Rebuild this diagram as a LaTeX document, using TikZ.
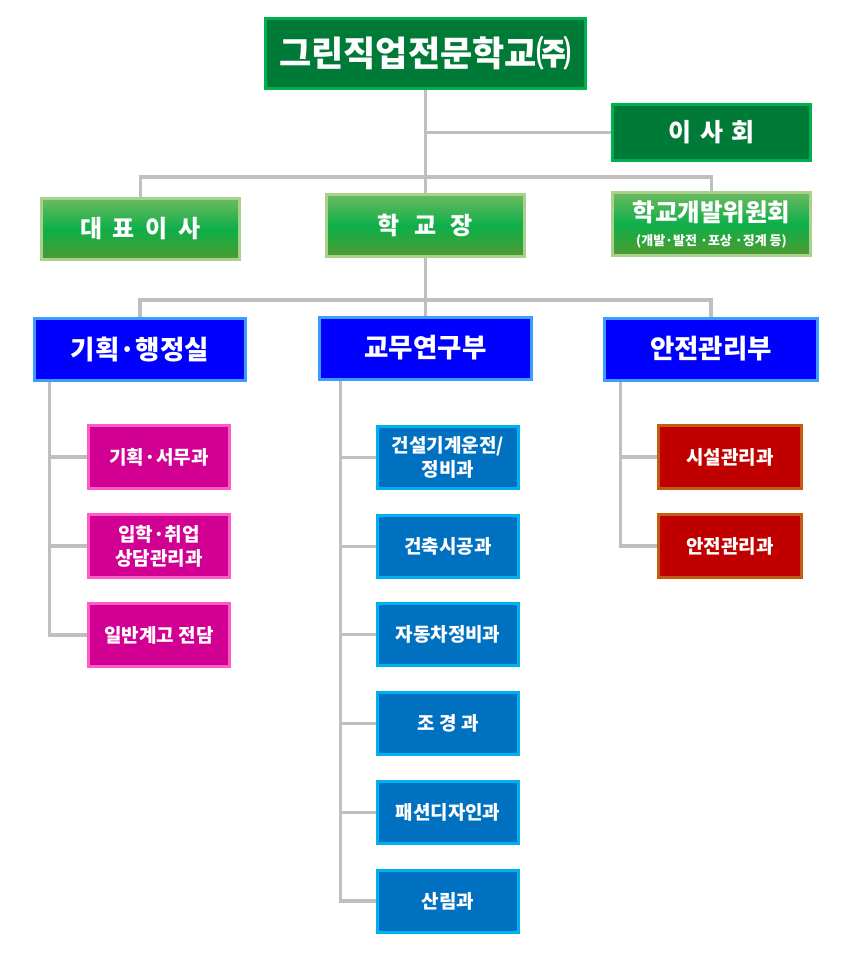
\documentclass[tikz,border=0pt]{standalone}
\usepackage{fontspec}
\setmainfont{Noto Sans CJK KR}
\usetikzlibrary{calc, shadows, backgrounds}

\definecolor{dkgreen}{HTML}{007A37}
\definecolor{ltgreen}{HTML}{00B050}
\definecolor{gtop}{HTML}{6DBA5F}
\definecolor{gmid}{HTML}{0DAF4A}
\definecolor{gbot}{HTML}{4E9A2F}
\definecolor{gedge}{HTML}{A9D18E}
\definecolor{deptblue}{HTML}{0000FF}
\definecolor{deptedge}{HTML}{3D9DFF}
\definecolor{pinkfill}{HTML}{D10093}
\definecolor{pinkedge}{HTML}{FF5CC8}
\definecolor{coursefill}{HTML}{0070C0}
\definecolor{courseedge}{HTML}{00B0F0}
\definecolor{redfill}{HTML}{C00000}
\definecolor{rededge}{HTML}{C55A11}
\definecolor{linegray}{HTML}{BFBFBF}

\begin{document}
\begin{tikzpicture}[x=1pt, y=-1pt,
  every node/.style={align=center, text=white},
  box/.style={rectangle, draw, line width=3pt, inner sep=0pt,
    drop shadow={shadow xshift=1.5pt, shadow yshift=-1.5pt, opacity=0.35, fill=black}},
  topbox/.style={box, fill=dkgreen, draw=ltgreen},
  headbox/.style={box, top color=gtop, bottom color=gbot, middle color=gmid,
    draw=gedge, minimum width=198pt, font=\bfseries\fontsize{24}{28}\selectfont},
  deptbox/.style={box, fill=deptblue, draw=deptedge, minimum height=62pt,
    font=\bfseries\fontsize{26.5}{30}\selectfont},
  subbox/.style={box, minimum width=141pt, minimum height=63pt,
    font=\bfseries\fontsize{19}{24}\selectfont},
  pinkbox/.style={subbox, fill=pinkfill, draw=pinkedge},
  coursebox/.style={subbox, fill=coursefill, draw=courseedge, minimum height=62pt},
  redbox/.style={subbox, fill=redfill, draw=rededge, minimum width=143pt},
  link/.style={draw=linegray, line width=3.5pt}
]
\useasboundingbox (0,0) rectangle (851,960);

% Top level
\node (school) [topbox, minimum width=320pt, minimum height=70pt,
  font=\bfseries\fontsize{35}{40}\selectfont] at (425.5,53.5) {그린직업전문학교㈜};
\node (board) [topbox, minimum width=198pt, minimum height=56pt,
  font=\bfseries\fontsize{25}{29}\selectfont] at (711.5,132.5)
  {이\hspace{0.33em}사\hspace{0.33em}회};

% Second level
\node (ceo) [headbox, minimum height=61pt] at (140.5,229)
  {대\hspace{0.45em}표\hspace{0.45em}이\hspace{0.45em}사};
\node (principal) [headbox, minimum height=62pt] at (425.5,225.5)
  {학\hspace{0.6em}교\hspace{0.6em}장};
\node (devcom) [headbox, minimum height=63pt, font=\bfseries\fontsize{24.5}{28}\selectfont]
  at (711.5,224)
  {학교개발위원회\\[-4pt]{\fontsize{13}{15}\selectfont (개발·발전 ·포상 ·징계 등)}};

% Departments
\node (admin) [deptbox, minimum width=211pt] at (140,349.5) {기획·행정실};
\node (academic) [deptbox, minimum width=212pt] at (425.5,348) {교무연구부};
\node (safety) [deptbox, minimum width=213pt] at (711,349) {안전관리부};

% Sections
\node (plan) [pinkbox] at (159,457) {기획·서무과};
\node (admit) [pinkbox] at (159,546) {입학·취업\\상담관리과};
\node (general) [pinkbox] at (159,635) {일반계고 전담};

\node (machine) [coursebox] at (448,457.5) {건설기계운전/\\정비과};
\node (build) [coursebox] at (448,546.5) {건축시공과};
\node (auto) [coursebox] at (448,634.5) {자동차정비과};
\node (landscape) [coursebox] at (448,723.5) {조 경 과};
\node (fashion) [coursebox] at (448,812.5) {패션디자인과};
\node (forest) [coursebox] at (448,901) {산림과};

\node (facility) [redbox] at (730,457) {시설관리과};
\node (safemgmt) [redbox] at (730,546) {안전관리과};

% Connectors behind the boxes
\begin{scope}[on background layer]
\draw[link] (school.south) -- (academic.north);
\draw[link] (school.south |- board.west) -- (board.west);
\coordinate (bar1) at (426,177);
\coordinate (bar2) at (426,300);
\draw[link] (ceo.north) |- (bar1) -| (devcom.north);
\draw[link] (admin.north) |- (bar2) -| (safety.north);

\coordinate (adminspine) at ($(admin.south west)+(16.5,0)$);
\coordinate (academicspine) at ($(academic.south west)+(22.5,0)$);
\coordinate (safetyspine) at ($(safety.south west)+(17.5,0)$);

\draw[link] (adminspine) |- (general.west);
\foreach \n in {plan, admit}
  \draw[link] (adminspine |- \n.west) -- (\n.west);
\draw[link] (academicspine) |- (forest.west);
\foreach \n in {machine, build, auto, landscape, fashion}
  \draw[link] (academicspine |- \n.west) -- (\n.west);
\draw[link] (safetyspine) |- (safemgmt.west);
\draw[link] (safetyspine |- facility.west) -- (facility.west);
\end{scope}

\end{tikzpicture}
\end{document}
